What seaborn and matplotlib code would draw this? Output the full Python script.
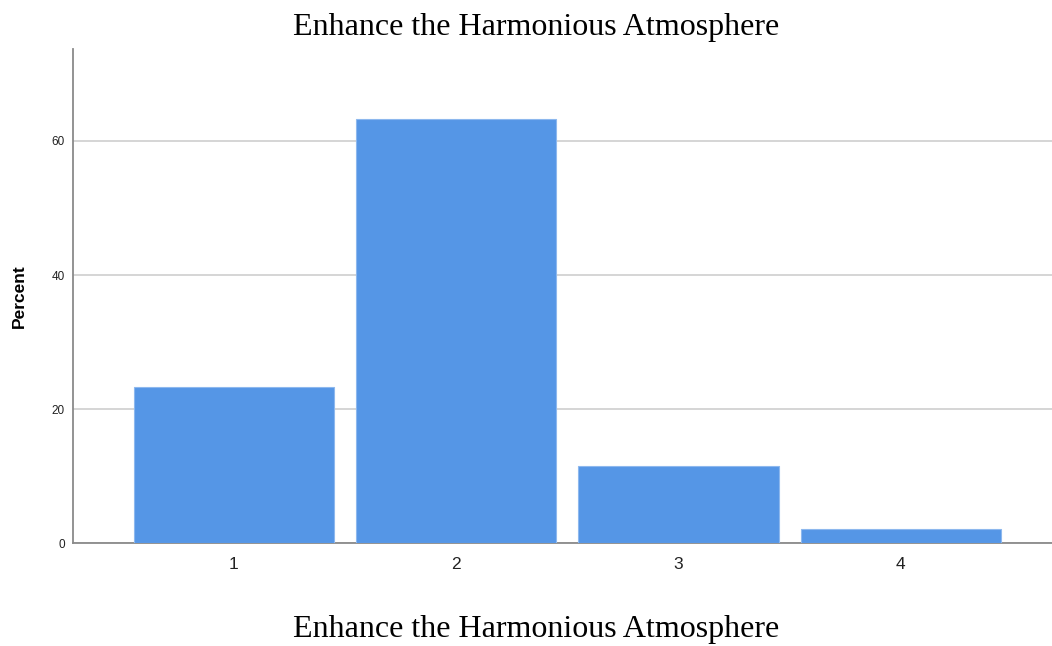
import matplotlib
matplotlib.use("Agg")
import matplotlib.pyplot as plt
import seaborn as sns
import pandas as pd

categories = ["1", "2", "3", "4"]
percent = [23.25, 63.2, 11.5, 2.1]
title_text = "Enhance the Harmonious Atmosphere"
xlabel_text = "Enhance the Harmonious Atmosphere"
ylabel_text = "Percent"
yticks = [0, 20, 40, 60]

sns.set_theme(style="white")
plt.rcParams["font.family"] = ["Liberation Sans", "DejaVu Sans"]

df = pd.DataFrame({"cat": categories, "pct": percent})

fig = plt.figure(figsize=(10.52, 6.46), dpi=100)
ax = fig.add_axes([73/1052, 1 - 543.3/646, (1052 - 73)/1052, (543.3 - 49)/646])

sns.barplot(data=df, x="cat", y="pct", ax=ax, color="#5596e6", saturation=1,
            width=0.9, edgecolor="#8db8ee", linewidth=0.8, zorder=3)

ax.set_xlim(-0.723, 3.68)
ax.set_ylim(0, 73.7)
ax.set_yticks(yticks)
ax.set_yticklabels([str(v) for v in yticks], fontsize=8.5, color="#222222")
ax.tick_params(axis="x", labelsize=12.5, colors="#222222", length=0, pad=10)
ax.tick_params(axis="y", length=0, pad=6)
ax.yaxis.grid(True, color="#d2d2d2", linewidth=1.3, zorder=0)
ax.xaxis.grid(False)

for s in ["top", "right"]:
    ax.spines[s].set_visible(False)
for s in ["left", "bottom"]:
    ax.spines[s].set_color("#8a8a8a")
    ax.spines[s].set_linewidth(1.3)

ax.set_ylabel(ylabel_text, fontsize=12.5, fontweight="bold", labelpad=18, color="black")
ax.set_xlabel("")

fig.text(536/1052, 1 - 27/646, title_text, ha="center", va="center",
         fontsize=23, family="Liberation Serif", color="black")
fig.text(536/1052, 1 - 630/646, xlabel_text, ha="center", va="center",
         fontsize=23, family="Liberation Serif", color="black")

fig.savefig("out.png", dpi=100)
